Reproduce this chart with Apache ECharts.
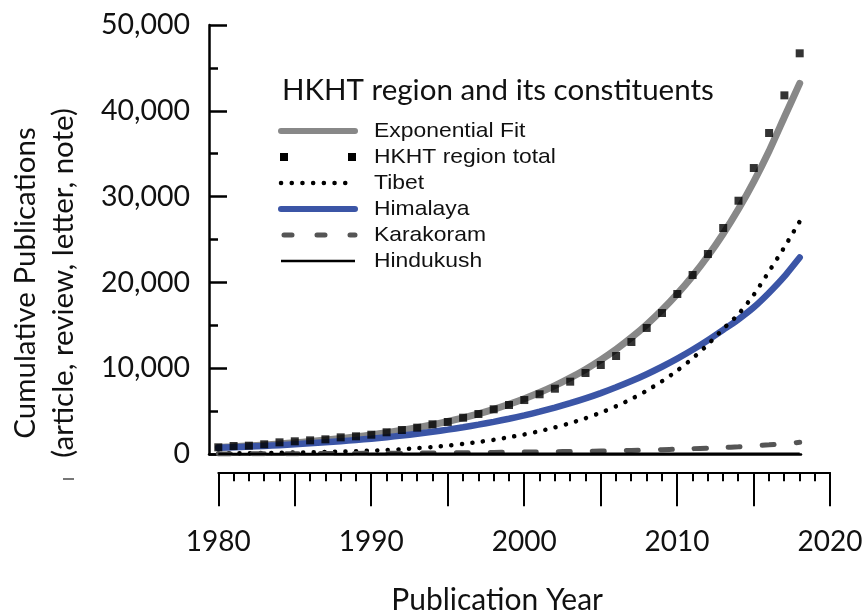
<!DOCTYPE html>
<html><head><meta charset="utf-8">
<script src="https://cdn.jsdelivr.net/npm/echarts@6/dist/echarts.min.js"></script>
<style>html,body{margin:0;padding:0;background:#fff}#c{width:868px;height:612px}</style>
</head><body><div id="c"></div>
<script>
const years = [1980,1981,1982,1983,1984,1985,1986,1987,1988,1989,1990,1991,1992,1993,1994,1995,1996,1997,1998,1999,2000,2001,2002,2003,2004,2005,2006,2007,2008,2009,2010,2011,2012,2013,2014,2015,2016,2017,2018];
const hkhtTotal = [780,930,970,1130,1360,1480,1590,1710,1940,2060,2250,2530,2800,3070,3460,3730,4230,4660,5210,5710,6290,6960,7610,8430,9440,10370,11420,13050,14690,16430,18650,20860,23310,26340,29520,33330,37410,41800,46700];
const expFit = [770,850,950,1060,1180,1310,1460,1620,1800,2000,2230,2480,2760,3070,3410,3790,4220,4690,5210,5800,6450,7170,7970,8870,9860,10970,12200,13570,15090,16780,18660,20750,23080,25670,28550,31750,35310,39270,43200];
const tibet = [60,80,100,120,140,170,200,240,280,330,390,460,560,680,820,990,1180,1400,1650,1950,2280,2660,3100,3600,4170,4820,5560,6410,7380,8480,9730,11150,12760,14580,16300,18560,21290,24110,27100];
const himalaya = [720,790,860,940,1030,1130,1240,1360,1490,1630,1790,1960,2150,2360,2590,2840,3120,3420,3750,4110,4500,4930,5400,5920,6480,7100,7770,8500,9300,10170,11110,12140,13260,14470,15700,17100,18800,20700,22900];
const karakoram = [10,15,20,25,30,35,40,50,60,70,80,90,100,110,120,135,150,165,180,200,220,240,265,290,315,345,375,410,450,500,560,620,690,760,840,950,1070,1200,1360];
const hindukush = [5,6,7,8,9,10,11,12,13,14,15,16,17,18,19,20,21,22,23,24,25,26,27,28,29,30,31,32,33,34,35,36,37,38,39,40,41,42,43];
const xTickLabels = [1980,1990,2000,2010,2020];
const seriesNames = ['Exponential Fit','HKHT region total','Tibet','Himalaya','Karakoram','Hindukush'];
const legendTitle = 'HKHT region and its constituents';
const yTitleLines = ['Cumulative Publications','(article, review, letter, note)'];
const xTitle = 'Publication Year';

const pairs = arr => years.map((y,i)=>[y,arr[i]]);
const fmt = v => String(v).replace(/\B(?=(\d{3})+(?!\d))/g, ',');

const chart = echarts.init(document.getElementById('c'), null, {renderer:'canvas'});

const legendRowY = [131,157,183,209,235,261];
const lx1 = 281, lx2 = 355, tx = 374;
const legendSymbols = [
  {type:'line', shape:{x1:lx1,y1:legendRowY[0],x2:lx2,y2:legendRowY[0]}, style:{stroke:'#888888',lineWidth:6,lineCap:'round'}},
  {type:'rect', shape:{x:lx1-1,y:legendRowY[1]-4,width:8,height:8}, style:{fill:'#000'}},
  {type:'rect', shape:{x:lx2-7,y:legendRowY[1]-4,width:8,height:8}, style:{fill:'#000'}},
  {type:'line', shape:{x1:lx1,y1:legendRowY[2],x2:lx2-8,y2:legendRowY[2]}, style:{stroke:'#000',lineWidth:4.5,lineCap:'round',lineDash:[0.1,10.6]}},
  {type:'line', shape:{x1:lx1,y1:legendRowY[3],x2:lx2,y2:legendRowY[3]}, style:{stroke:'#3b55a6',lineWidth:6,lineCap:'round'}},
  {type:'line', shape:{x1:lx1+3,y1:legendRowY[4],x2:lx2,y2:legendRowY[4]}, style:{stroke:'#555555',lineWidth:5,lineCap:'round',lineDash:[8,25]}},
  {type:'line', shape:{x1:lx1,y1:legendRowY[5],x2:lx2,y2:legendRowY[5]}, style:{stroke:'#000',lineWidth:2.5}}
];
const legendTexts = seriesNames.map((n,i)=>({
  type:'text', x:tx, y:legendRowY[i], scaleX:1.09,
  style:{text:n, font:'21px "Liberation Sans"', fill:'#111', align:'left', verticalAlign:'middle'}
}));

const option = {
  animation:false,
  backgroundColor:'#fff',
  grid:[
    {left:209, top:25, width:592, height:429},
    {left:218.3, top:472, width:611.7, height:1}
  ],
  xAxis:[
    {type:'value', gridIndex:0, min:1979.392, max:2018.085,
     axisLine:{show:true, onZero:false, lineStyle:{color:'#000', width:2.5}},
     axisTick:{show:false}, axisLabel:{show:false}, splitLine:{show:false}},
    {type:'value', gridIndex:1, min:1980, max:2020, interval:5,
     axisLine:{show:true, onZero:false, lineStyle:{color:'#000', width:2}},
     axisTick:{show:true, inside:false, length:34, lineStyle:{color:'#000', width:2}},
     minorTick:{show:true, splitNumber:5, length:9, lineStyle:{color:'#000', width:2}},
     axisLabel:{show:true, margin:56, fontSize:28, fontFamily:'Lato', color:'#111',
       formatter: v => xTickLabels.indexOf(v) >= 0 ? String(v) : ''},
     splitLine:{show:false},
     name:xTitle, nameLocation:'middle', nameGap:113,
     nameTextStyle:{fontSize:30, fontFamily:'Lato', color:'#111', padding:[0,54,0,0]}}
  ],
  yAxis:[
    {type:'value', gridIndex:0, min:0, max:50000, interval:10000,
     axisLine:{show:true, lineStyle:{color:'#000', width:2.5}},
     axisTick:{show:true, inside:true, length:18, lineStyle:{color:'#000', width:2.5}},
     minorTick:{show:true, splitNumber:2, length:9, lineStyle:{color:'#000', width:2.5}},
     axisLabel:{margin:19, fontSize:28.5, fontFamily:'Lato', color:'#111', formatter: v => fmt(v)},
     splitLine:{show:false}},
    {type:'value', gridIndex:1, min:0, max:1, show:false}
  ],
  series:[
    {name:seriesNames[0], type:'line', xAxisIndex:0, yAxisIndex:0, data:pairs(expFit), showSymbol:false, smooth:0.2,
     lineStyle:{color:'#888888', width:7, cap:'round'}, z:2},
    {name:seriesNames[3], type:'line', xAxisIndex:0, yAxisIndex:0, data:pairs(himalaya), showSymbol:false, smooth:0.2,
     lineStyle:{color:'#3b55a6', width:6.5, cap:'round'}, z:3},
    {name:seriesNames[2], type:'line', xAxisIndex:0, yAxisIndex:0, data:pairs(tibet), showSymbol:false, smooth:0.2,
     lineStyle:{color:'#000', width:4.5, cap:'round', type:[0.1,10.5]}, z:4},
    {name:seriesNames[4], type:'line', xAxisIndex:0, yAxisIndex:0, data:pairs(karakoram), showSymbol:false, smooth:0.2,
     lineStyle:{color:'#555555', width:5, cap:'round', type:[12,22]}, z:4},
    {name:seriesNames[5], type:'line', xAxisIndex:0, yAxisIndex:0, data:pairs(hindukush), showSymbol:false,
     lineStyle:{color:'#000', width:2.5}, z:5},
    {name:seriesNames[1], type:'scatter', xAxisIndex:0, yAxisIndex:0, data:pairs(hkhtTotal), symbol:'rect', symbolSize:8,
     itemStyle:{color:'#000'}, z:6}
  ],
  graphic:[
    {type:'text', x:282, y:90, style:{text:legendTitle, font:'29.5px Lato', fill:'#111', align:'left', verticalAlign:'middle'}},
    ...legendSymbols,
    ...legendTexts,
    {type:'text', x:44, y:283, rotation:Math.PI/2,
     style:{text:yTitleLines.join('\n'), font:'29.5px Lato', fill:'#111', align:'center', verticalAlign:'middle', lineHeight:38}},
    {type:'line', shape:{x1:63,y1:479,x2:74,y2:479}, style:{stroke:'#777', lineWidth:2}}
  ]
};
chart.setOption(option);
</script>
</body></html>
